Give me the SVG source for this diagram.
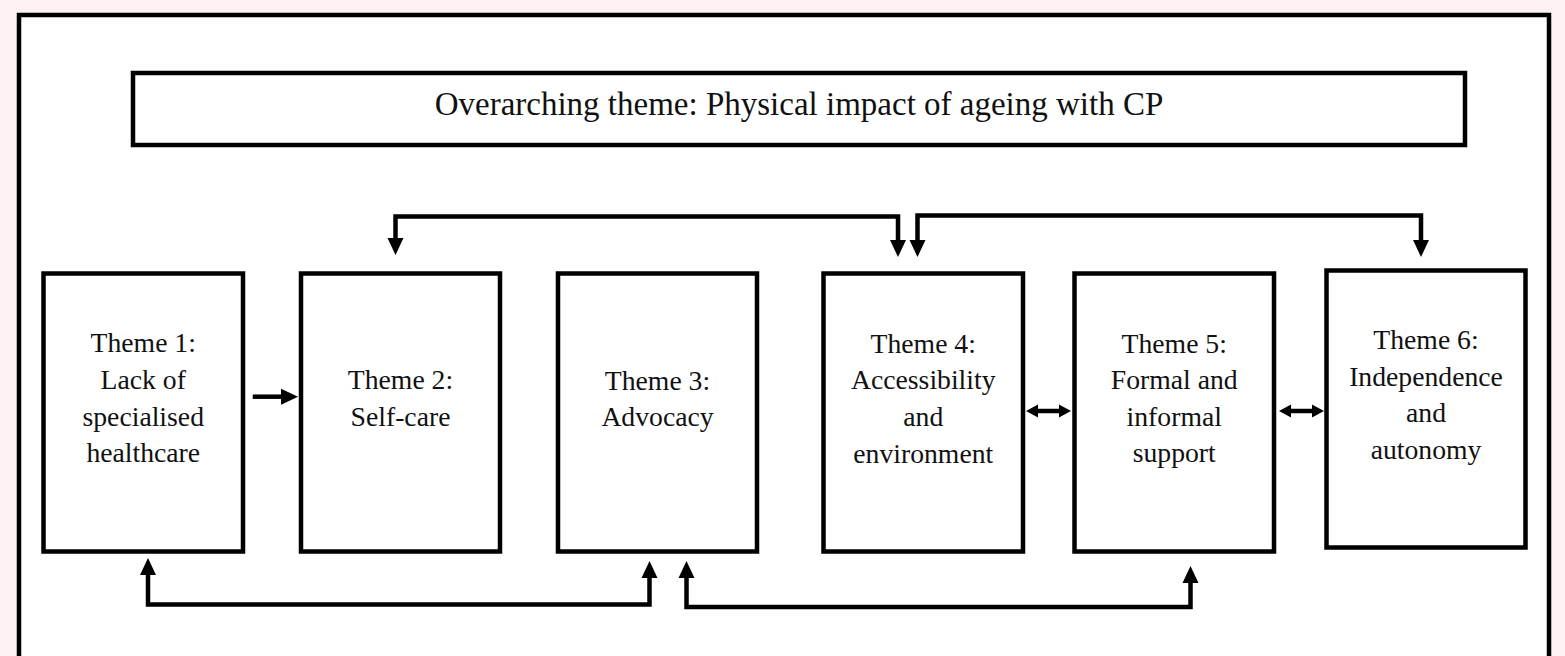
<svg xmlns="http://www.w3.org/2000/svg" width="1565" height="656" viewBox="0 0 1565 656">
<style>
.box{fill:#ffffff;stroke:#000000;stroke-width:4.5}
.lbl{font-family:"Liberation Serif","Times New Roman",serif;font-size:27.7px;fill:#111111;text-anchor:middle}
.title{font-family:"Liberation Serif","Times New Roman",serif;font-size:33px;fill:#111111;text-anchor:middle}
.con{fill:none;stroke:#000000;stroke-width:4.5;stroke-linejoin:miter}
</style>
<defs>
<marker id="ah" markerUnits="userSpaceOnUse" markerWidth="18" markerHeight="17" refX="1" refY="8" orient="auto-start-reverse" viewBox="0 0 18 16">
<path d="M0,0 L17,8 L0,16 z" fill="#000000"/>
</marker>
<marker id="ahs" markerUnits="userSpaceOnUse" markerWidth="13" markerHeight="14" refX="1" refY="6.5" orient="auto-start-reverse" viewBox="0 0 13 13">
<path d="M0,0 L12,6.5 L0,13 z" fill="#000000"/>
</marker>
</defs>
<rect x="0" y="0" width="1565" height="656" fill="#fdf2f1"/>
<rect x="19" y="15" width="1530" height="700" fill="#ffffff" stroke="#000000" stroke-width="4.5"/>
<g id="title">
<rect class="box" x="133" y="73" width="1332" height="72"/>
<text class="title" x="799" y="115">Overarching theme: Physical impact of ageing with CP</text>
</g>
<g id="theme1">
<rect class="box" x="43.5" y="273.5" width="199.5" height="278"/>
<text class="lbl" x="143.25" y="352.3">Theme 1:</text>
<text class="lbl" x="143.25" y="389">Lack of</text>
<text class="lbl" x="143.25" y="425.7">specialised</text>
<text class="lbl" x="143.25" y="461.7">healthcare</text>
</g>
<g id="theme2">
<rect class="box" x="301" y="273.5" width="199" height="278"/>
<text class="lbl" x="400.5" y="389">Theme 2:</text>
<text class="lbl" x="400.5" y="425.7">Self-care</text>
</g>
<g id="theme3">
<rect class="box" x="558" y="273.5" width="199" height="278"/>
<text class="lbl" x="657.5" y="390">Theme 3:</text>
<text class="lbl" x="657.5" y="426">Advocacy</text>
</g>
<g id="theme4">
<rect class="box" x="823.5" y="273.5" width="199.5" height="278"/>
<text class="lbl" x="923.25" y="352.7">Theme 4:</text>
<text class="lbl" x="923.25" y="389.3">Accessibility</text>
<text class="lbl" x="923.25" y="425.7">and</text>
<text class="lbl" x="923.25" y="462.7">environment</text>
</g>
<g id="theme5">
<rect class="box" x="1074.5" y="273.5" width="199.5" height="278"/>
<text class="lbl" x="1174.25" y="352.7">Theme 5:</text>
<text class="lbl" x="1174.25" y="389.3">Formal and</text>
<text class="lbl" x="1174.25" y="425.7">informal</text>
<text class="lbl" x="1174.25" y="461.7">support</text>
</g>
<g id="theme6">
<rect class="box" x="1326.5" y="270.5" width="199" height="277"/>
<text class="lbl" x="1426" y="349">Theme 6:</text>
<text class="lbl" x="1426" y="385.7">Independence</text>
<text class="lbl" x="1426" y="421.7">and</text>
<text class="lbl" x="1426" y="458.5">autonomy</text>
</g>
<g id="connectors">
<path class="con" d="M395.5,239 V216.5 H898 V241" marker-start="url(#ah)" marker-end="url(#ah)"/>
<path class="con" d="M917.5,241 V215.5 H1421 V241" marker-start="url(#ah)" marker-end="url(#ah)"/>
<path class="con" d="M148,574 V604.5 H649.5 V577" marker-start="url(#ah)" marker-end="url(#ah)"/>
<path class="con" d="M686.5,577 V607 H1190.5 V582" marker-start="url(#ah)" marker-end="url(#ah)"/>
<path class="con" d="M252.7,396.7 H282" marker-end="url(#ah)"/>
<path class="con" d="M1037,411 H1060" marker-start="url(#ahs)" marker-end="url(#ahs)"/>
<path class="con" d="M1290,411 H1313" marker-start="url(#ahs)" marker-end="url(#ahs)"/>
</g>
</svg>
